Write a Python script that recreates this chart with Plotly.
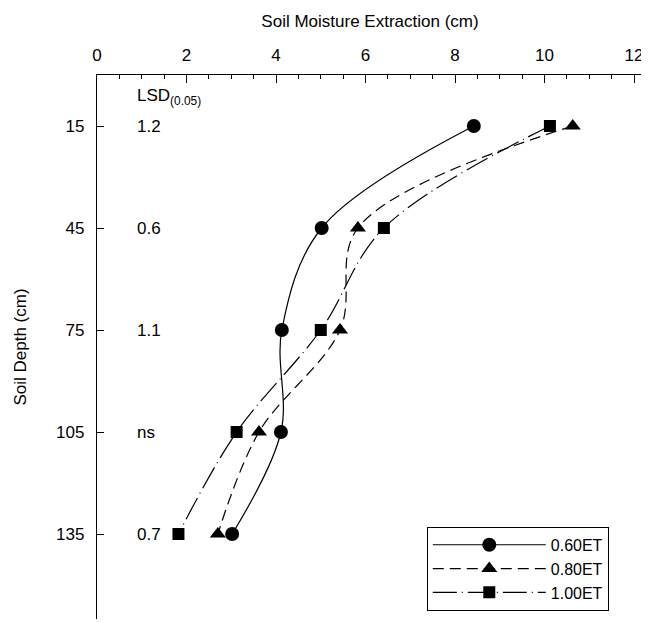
import plotly.graph_objects as go

depth = [15, 45, 75, 105, 135]
et060 = [8.42, 5.02, 4.13, 4.11, 3.02]
et080 = [10.63, 5.83, 5.43, 3.62, 2.70]
et100 = [10.12, 6.41, 5.00, 3.12, 1.82]
lsd_labels = ["1.2", "0.6", "1.1", "ns", "0.7"]
series_names = ["0.60ET", "0.80ET", "1.00ET"]
x_ticks = [0, 2, 4, 6, 8, 10, 12]

FONT = "Liberation Sans, Arial, sans-serif"

fig = go.Figure()
fig.add_trace(go.Scatter(
    x=et060, y=depth, name=series_names[0], mode="lines+markers",
    line=dict(color="black", width=1.2, shape="spline", smoothing=1.0),
    marker=dict(symbol="circle", size=14, color="black")))
fig.add_trace(go.Scatter(
    x=et080, y=depth, name=series_names[1], mode="lines+markers",
    line=dict(color="black", width=1.2, dash="11px,6px", shape="spline", smoothing=1.0),
    marker=dict(symbol="triangle-up", size=14, color="black")))
fig.add_trace(go.Scatter(
    x=et100, y=depth, name=series_names[2], mode="lines+markers",
    line=dict(color="black", width=1.2, dash="24px,5px,1px,5px", shape="spline", smoothing=1.0),
    marker=dict(symbol="square", size=12, color="black")))

annotations = [dict(x=0.85, y=6.5, xref="x", yref="y", text="LSD<sub>(0.05)</sub>",
                    showarrow=False, xanchor="left", yanchor="middle",
                    font=dict(family=FONT, size=17, color="black"))]
for d, t in zip(depth, lsd_labels):
    annotations.append(dict(x=0.85, y=d, xref="x", yref="y", text=t, showarrow=False,
                            xanchor="left", yanchor="middle",
                            font=dict(family=FONT, size=17, color="black")))

# page body has an 8px default margin, so the figure is sized/placed to compensate
fig.update_layout(
    width=641, height=614,
    margin=dict(l=89, r=6, t=67, b=3),
    paper_bgcolor="white", plot_bgcolor="white",
    font=dict(family=FONT, size=17, color="black"),
    showlegend=True,
    legend=dict(x=0.604, y=0.015, xanchor="left", yanchor="bottom",
                bordercolor="black", borderwidth=1, bgcolor="white",
                font=dict(family=FONT, size=16, color="black"),
                itemwidth=113, tracegroupgap=0),
    annotations=annotations,
    xaxis=dict(side="top", range=[0, 12.2], tickvals=x_ticks, ticks="inside", ticklen=8,
               tickwidth=1.3, tickcolor="black", automargin=False,
               minor=dict(dtick=0.5, ticks="inside", ticklen=4, tickcolor="black", showgrid=False),
               showline=True, linecolor="black", linewidth=1.3, showgrid=False, zeroline=False,
               ticklabelstandoff=6,
               title=dict(text="Soil Moisture Extraction (cm)", standoff=14,
                          font=dict(family=FONT, size=17)),
               tickfont=dict(family=FONT, size=17)),
    yaxis=dict(range=[160, 0], tickvals=depth, ticks="inside", ticklen=7, tickwidth=1.3,
               tickcolor="black", showline=True, linecolor="black", linewidth=1.3,
               showgrid=False, zeroline=False, ticklabelstandoff=8, automargin=False,
               title=dict(text="Soil Depth (cm)", standoff=25, font=dict(family=FONT, size=17)),
               tickfont=dict(family=FONT, size=17)),
)

fig.write_html("out.html")
